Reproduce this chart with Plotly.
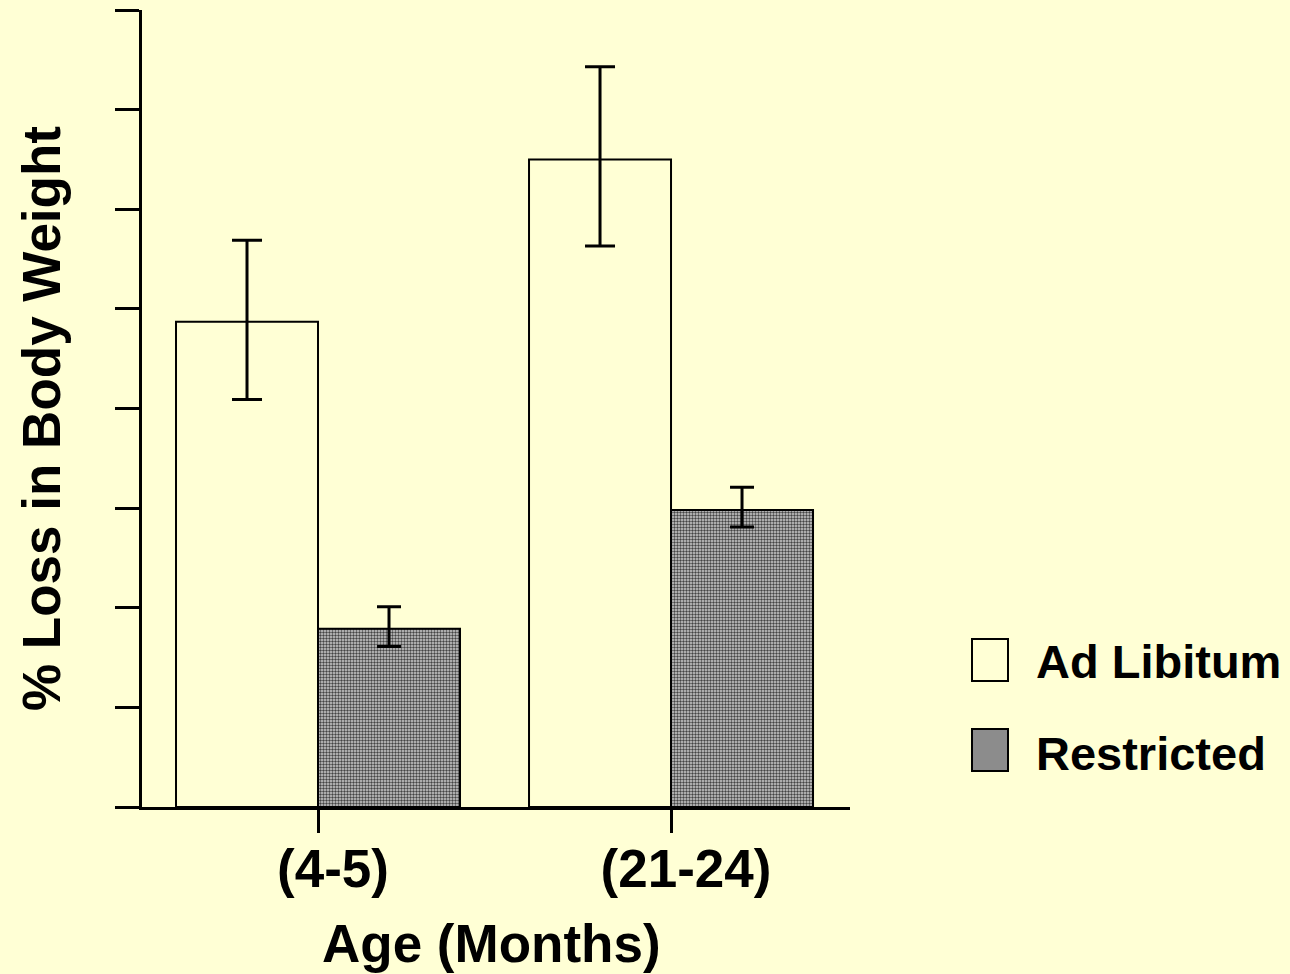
import plotly.graph_objects as go

# ---- data ----
categories = ["(4-5)", "(21-24)"]
series_names = ["Ad Libitum", "Restricted"]
ad_libitum = [4.87, 6.50]
ad_libitum_err_plus = [0.82, 0.93]
ad_libitum_err_minus = [0.78, 0.87]
restricted = [1.79, 2.98]
restricted_err_plus = [0.22, 0.23]
restricted_err_minus = [0.18, 0.17]
y_ticks = [0, 1, 2, 3, 4, 5, 6, 7, 8]

BG = "#FFFFD5"
FONT = "Liberation Sans"

fig = go.Figure()
fig.add_trace(go.Bar(
    x=categories, y=ad_libitum, name=series_names[0],
    marker=dict(color=BG, line=dict(color="black", width=2)),
    error_y=dict(type="data", array=ad_libitum_err_plus, arrayminus=ad_libitum_err_minus,
                 symmetric=False, color="black", thickness=3, width=15),
    showlegend=False,
))
fig.add_trace(go.Bar(
    x=categories, y=restricted, name=series_names[1],
    marker=dict(color="#8c8c8c", line=dict(color="black", width=2),
                pattern=dict(shape=".", fgcolor="#444444", bgcolor="#cfcfcf",
                             size=3, solidity=0.5, fillmode="replace")),
    error_y=dict(type="data", array=restricted_err_plus, arrayminus=restricted_err_minus,
                 symmetric=False, color="black", thickness=3, width=12),
    showlegend=False,
))

W, H = 1290, 974
L, R, T, B = 142, 850, 10, 807
pw, ph = R - L, B - T


def px(x):
    return (x - L) / pw


def py(y):
    return (B - y) / ph


fig.update_layout(
    width=W, height=H,
    margin=dict(l=L, r=W - R, t=T, b=H - B, pad=0),
    paper_bgcolor=BG, plot_bgcolor=BG,
    barmode="group", bargap=0.1955, bargroupgap=0,
    font=dict(family=FONT, color="black", size=48, weight="bold"),
    xaxis=dict(
        type="category", range=[-0.4986, 1.507],
        showline=True, linecolor="black", linewidth=3,
        ticks="outside", ticklen=23, tickwidth=2.5, tickcolor="black",
        tickfont=dict(size=53, family=FONT, weight="bold"),
        ticklabelshift=15, ticklabelstandoff=-10,
        showgrid=False, zeroline=False,
    ),
    yaxis=dict(
        range=[0, 8], tickvals=y_ticks, showticklabels=False,
        showline=True, linecolor="black", linewidth=3,
        ticks="outside", ticklen=24, tickwidth=3, tickcolor="black",
        showgrid=False, zeroline=False,
    ),
)

# axis titles
fig.add_annotation(text="Age (Months)", x=px(491), y=py(943), xref="paper", yref="paper",
                   xanchor="center", yanchor="middle", showarrow=False,
                   font=dict(size=53, family=FONT, weight="bold"))
fig.add_annotation(text="% Loss in Body Weight", x=px(41), y=py(419), xref="paper", yref="paper",
                   xanchor="center", yanchor="middle", textangle=-90, showarrow=False,
                   font=dict(size=53, family=FONT, weight="bold"))

# legend (manual, large swatches)
fig.add_shape(type="rect", xref="paper", yref="paper",
              x0=px(972), x1=px(1008), y0=py(681), y1=py(639),
              fillcolor=BG, line=dict(color="black", width=2))
fig.add_shape(type="rect", xref="paper", yref="paper",
              x0=px(972), x1=px(1008), y0=py(771), y1=py(729),
              fillcolor="#8c8c8c", line=dict(color="black", width=2))
fig.add_annotation(text=series_names[0], x=px(1034), y=py(661), xref="paper", yref="paper",
                   xanchor="left", yanchor="middle", showarrow=False,
                   font=dict(size=47, family=FONT, weight="bold"))
fig.add_annotation(text=series_names[1], x=px(1034), y=py(753), xref="paper", yref="paper",
                   xanchor="left", yanchor="middle", showarrow=False,
                   font=dict(size=47, family=FONT, weight="bold"))

fig.write_html("out.html", config={"displayModeBar": False},
               post_script="document.body.style.margin='0';")
